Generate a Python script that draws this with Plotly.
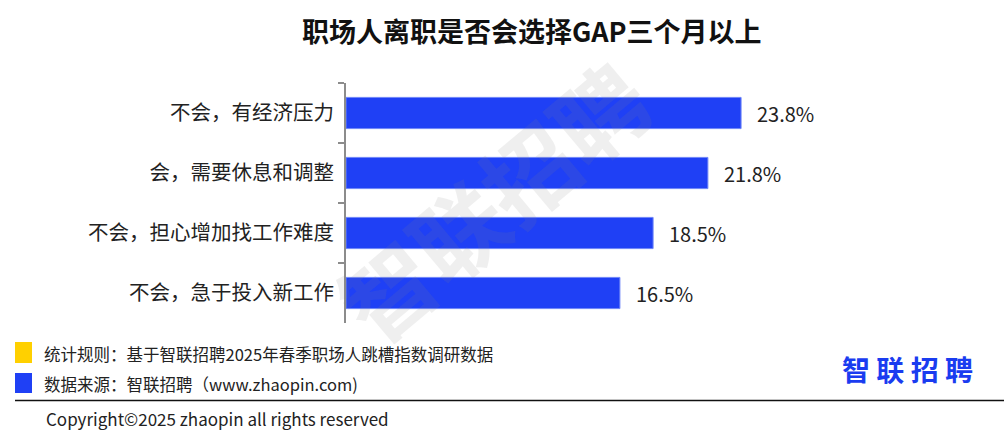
import plotly.graph_objects as go

# data
categories = ['不会，有经济压力', '会，需要休息和调整', '不会，担心增加找工作难度', '不会，急于投入新工作']
values = [23.8, 21.8, 18.5, 16.5]
labels = ['23.8%', '21.8%', '18.5%', '16.5%']

TITLE = '职场人离职是否会选择GAP三个月以上'
NOTE_RULE = '统计规则：基于智联招聘2025年春季职场人跳槽指数调研数据'
NOTE_SOURCE = '数据来源：智联招聘（www.zhaopin.com)'
COPYRIGHT = 'Copyright©2025 zhaopin all rights reserved'
BRAND = '智联招聘'

BAR_BLUE = '#1F40F5'
YELLOW = '#FFD000'
FONT = 'Noto Sans CJK SC, Microsoft YaHei, sans-serif'

W, H = 1004, 440
L, R, T, B = 346, 160, 83, 117
PW, PH = W - L - R, H - T - B


def px(x):
    return (x - L) / PW


def py(y):
    return 1 - (y - T) / PH


fig = go.Figure()

fig.add_trace(go.Bar(
    x=values,
    y=categories,
    orientation='h',
    marker=dict(color=BAR_BLUE, line=dict(width=1, color='#6F86F8')),
    width=0.52,
    hoverinfo='skip',
))

annotations = []

# value labels next to each bar
for v, c, t in zip(values, categories, labels):
    annotations.append(dict(
        x=v, y=c, xref='x', yref='y', text=t, showarrow=False,
        xanchor='left', xshift=14, font=dict(size=20, color='#222222', family=FONT)
    ))

# title
annotations.append(dict(
    x=px(531), y=py(30), xref='paper', yref='paper', text='<b>' + TITLE + '</b>',
    showarrow=False, xanchor='center', yanchor='middle',
    font=dict(size=27, color='#111111', family=FONT)
))

# watermark
annotations.append(dict(
    x=px(491), y=py(199), xref='paper', yref='paper', text='<b>' + BRAND + '</b>',
    showarrow=False, textangle=-40, xanchor='center', yanchor='middle',
    font=dict(size=92, color='rgba(128,128,128,0.13)', family=FONT)
))

# footer notes
annotations.append(dict(
    x=px(42), y=py(354), xref='paper', yref='paper', text=NOTE_RULE,
    showarrow=False, xanchor='left', yanchor='middle',
    font=dict(size=16.5, color='#222222', family=FONT)
))
annotations.append(dict(
    x=px(42), y=py(384), xref='paper', yref='paper', text=NOTE_SOURCE,
    showarrow=False, xanchor='left', yanchor='middle',
    font=dict(size=16.5, color='#222222', family=FONT)
))
annotations.append(dict(
    x=px(44), y=py(418), xref='paper', yref='paper', text=COPYRIGHT,
    showarrow=False, xanchor='left', yanchor='middle',
    font=dict(size=17, color='#222222', family=FONT)
))
annotations.append(dict(
    x=px(907), y=py(369), xref='paper', yref='paper', text='<b>' + ' '.join(BRAND) + '</b>',
    showarrow=False, xanchor='center', yanchor='middle',
    font=dict(size=28, color='#1A3CF0', family=FONT)
))

shapes = [
    dict(type='rect', xref='paper', yref='paper', x0=px(15), x1=px(32), y0=py(342), y1=py(363),
         fillcolor=YELLOW, line=dict(width=0)),
    dict(type='rect', xref='paper', yref='paper', x0=px(15), x1=px(32), y0=py(373), y1=py(393),
         fillcolor=BAR_BLUE, line=dict(width=0)),
    dict(type='line', xref='paper', yref='paper', x0=px(15), x1=px(1004), y0=py(400.5), y1=py(400.5),
         line=dict(color='#111111', width=1.5)),
]

fig.update_layout(
    width=W, height=H,
    margin=dict(l=L, r=R, t=T, b=B),
    paper_bgcolor='white', plot_bgcolor='white',
    showlegend=False,
    font=dict(family=FONT, color='#222222'),
    xaxis=dict(range=[0, PW / 16.6], visible=False, fixedrange=True),
    yaxis=dict(
        autorange='reversed',
        showline=True, linecolor='#8c8c8c', linewidth=2,
        ticks='outside', ticklen=6, tickcolor='#8c8c8c', tickwidth=2,
        tickson='boundaries', showgrid=False, zeroline=False,
        tickfont=dict(size=20.5, color='#222222', family=FONT),
        ticklabelstandoff=6,
    ),
    annotations=annotations,
    shapes=shapes,
)

fig.write_html('out.html', config={'displayModeBar': False},
               post_script="document.body.style.margin='0';")
